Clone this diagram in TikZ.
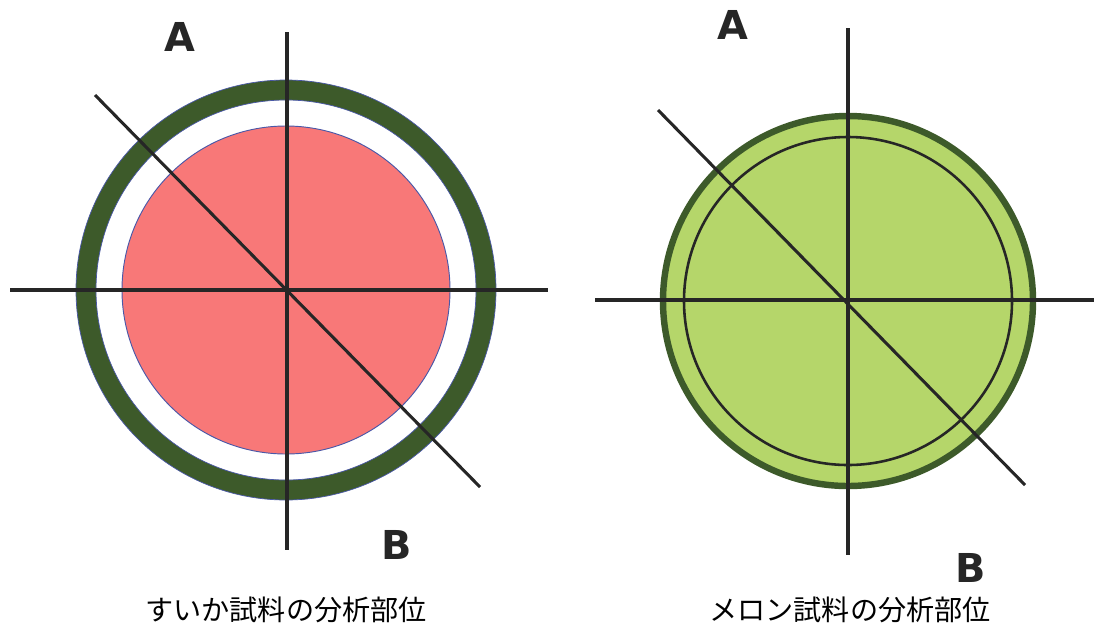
\documentclass[tikz,border=0pt]{standalone}
\usepackage{fontspec}
\newfontfamily\jpfont{Noto Sans CJK JP}
\newfontfamily\labfont{DejaVu Sans}
\usepackage{tikz}
\definecolor{rindgreen}{HTML}{3D5A2A}
\definecolor{fleshpink}{HTML}{F87878}
\definecolor{melongreen}{HTML}{B5D66A}
\definecolor{edgeblue}{HTML}{4A58A8}

\begin{document}
\begin{tikzpicture}[x=0.03cm, y=-0.03cm,
  axis/.style={draw=black!85, line width=2.6pt},
  letter/.style={font=\labfont\bfseries\fontsize{34}{34}\selectfont, text=black!85},
  caption/.style={font=\jpfont\fontsize{24}{24}\selectfont}
]
\useasboundingbox (0,0) rectangle (1096,633);

% suika
\coordinate (sc) at (286,290);
\fill[rindgreen, draw=edgeblue, line width=0.6pt, even odd rule]
  (sc) circle (210) (sc) circle (190);
\filldraw[fill=fleshpink, draw=edgeblue, line width=0.8pt] (sc) circle (164);
\coordinate (sl) at (10,290);
\coordinate (sr) at (548,290);
\coordinate (st) at (287,32);
\coordinate (sb) at (287,550);
\coordinate (sa) at (95,95);
\coordinate (sz) at (480,487);
\draw[axis] (sl) -- (sr);
\draw[axis] (st) -- (sb);
\draw[axis] (sa) -- (sz);
\node[letter] (sA) at (180,37) {A};
\node[letter] (sB) at (397,545) {B};
\node[caption] (scap) at (286,610) {すいか試料の分析部位};

% melon
\coordinate (mc) at (848,301);
\filldraw[fill=melongreen, draw=rindgreen, line width=5.5pt] (mc) circle (185);
\draw[black!85, line width=2.2pt] (mc) circle (164);
\coordinate (ml) at (595,300);
\coordinate (mr) at (1094,300);
\coordinate (mt) at (848,28);
\coordinate (mb) at (848,555);
\coordinate (ma) at (658,110);
\coordinate (mz) at (1025,485);
\draw[axis] (ml) -- (mr);
\draw[axis] (mt) -- (mb);
\draw[axis] (ma) -- (mz);
\node[letter] (mA) at (733,25) {A};
\node[letter] (mB) at (971,568) {B};
\node[caption] (mcap) at (850,610) {メロン試料の分析部位};
\end{tikzpicture}
\end{document}
